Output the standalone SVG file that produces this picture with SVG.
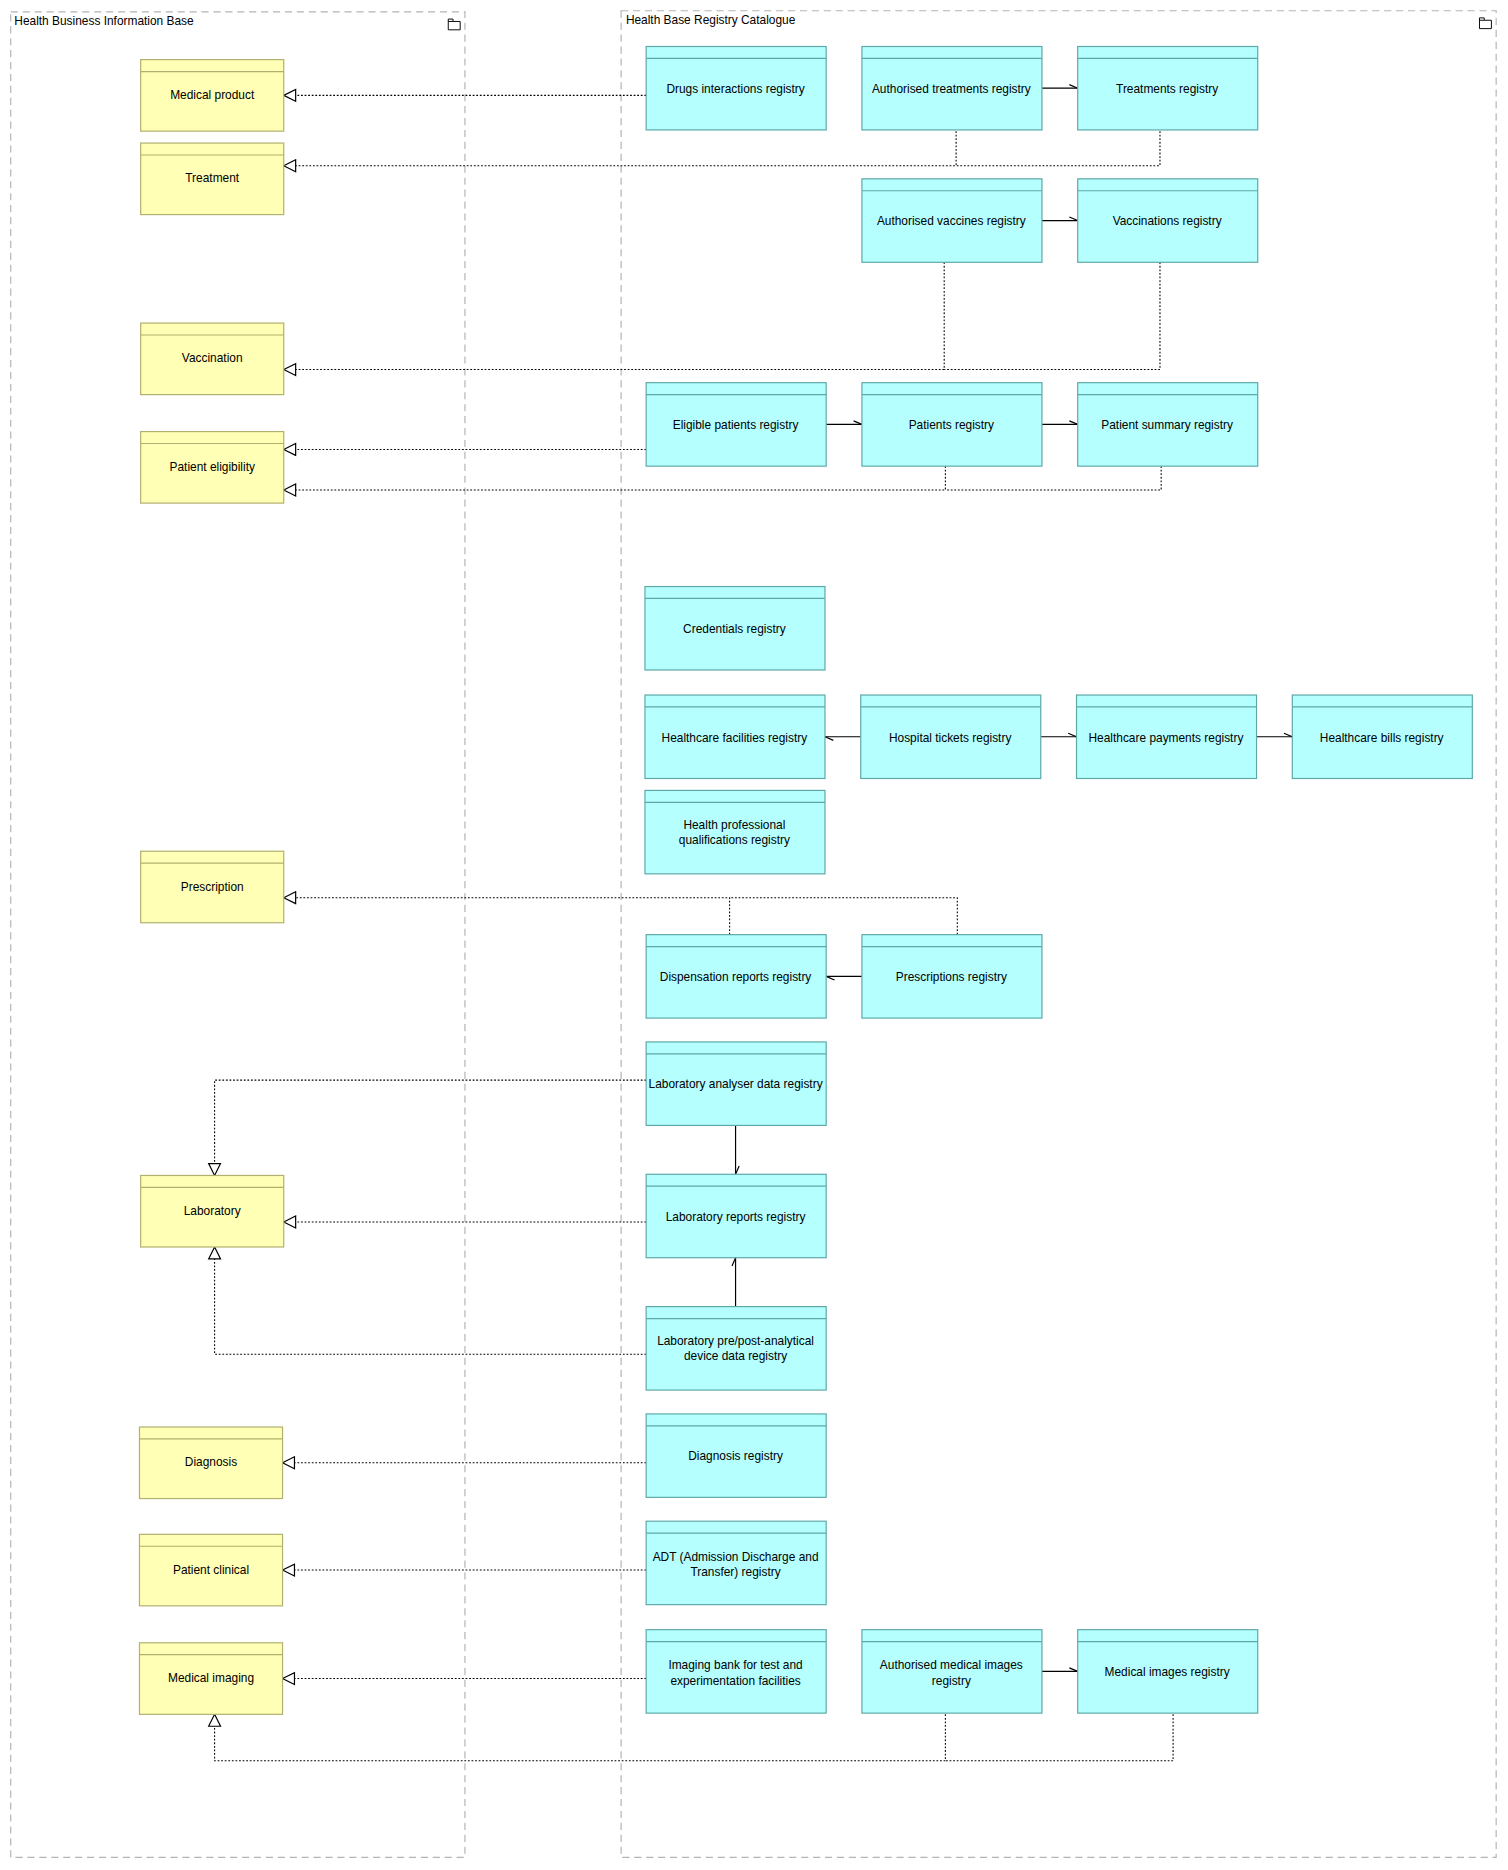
<svg xmlns="http://www.w3.org/2000/svg" width="1508" height="1870" viewBox="0 0 1508 1870">
<style>
text{font-family:"Liberation Sans",Arial,sans-serif;font-size:10px;fill:#000;text-anchor:middle}
.t{text-anchor:start}
.grp{fill:none;stroke:#b4b4b4;stroke-dasharray:6,4}
.y rect{fill:#ffffb5;stroke:#b0b070}
.y line{stroke:#b0b070}
.c rect{fill:#b5ffff;stroke:#5fa8a8}
.c line{stroke:#5fa8a8}
.r{fill:none;stroke:#000;stroke-width:0.9;stroke-dasharray:1.5,1.5;marker-end:url(#tri)}
.r2{fill:none;stroke:#000;stroke-width:0.9;stroke-dasharray:1.5,1.5}
.s{fill:none;stroke:#000;stroke-width:1;marker-end:url(#barb)}
.icon{fill:none;stroke:#000;stroke-width:0.8}
</style>
<defs>
<marker id="tri" viewBox="0 0 12 12" refX="11" refY="6" markerWidth="12" markerHeight="12" markerUnits="userSpaceOnUse" orient="auto">
<path d="M1,1 L11,6 L1,11 Z" fill="#fff" stroke="#000" stroke-width="1"/>
</marker>
<marker id="barb" viewBox="0 0 10 10" refX="9" refY="6" markerWidth="10" markerHeight="10" markerUnits="userSpaceOnUse" orient="auto">
<path d="M2,3 L9,6" fill="none" stroke="#000" stroke-width="1"/>
</marker>
</defs>
<rect width="1508" height="1870" fill="#fff"/>
<g transform="scale(1.19216)">
<g id="g-hbib">
<rect class="grp" x="9" y="10" width="381" height="1548"/>
<text class="t" x="12" y="21">Health Business Information Base</text>
<path class="icon" d="M376,16 h4 v2 h6 v7 h-10 z M376,18 h4"/>
</g>
<g id="g-hbrc">
<rect class="grp" x="521" y="9" width="734" height="1549"/>
<text class="t" x="525" y="20">Health Base Registry Catalogue</text>
<path class="icon" d="M1241,15 h4 v2 h6 v7 h-10 z M1241,17 h4"/>
</g>

<g id="connectors">
<path class="r" d="M542,80 H238"/>
<path class="r" d="M802,110 V139 H238"/>
<path class="r2" d="M973,110 V139 H802"/>
<path class="r" d="M792,220 V310 H238"/>
<path class="r2" d="M973,220 V310 H792"/>
<path class="r" d="M542,377 H238"/>
<path class="r" d="M793,391 V411 H238"/>
<path class="r2" d="M974,391 V411 H793"/>
<path class="r" d="M612,784 V753 H238"/>
<path class="r2" d="M803,784 V753 H612"/>
<path class="r" d="M542,906 H180 V986"/>
<path class="r" d="M542,1025 H238"/>
<path class="r" d="M542,1136 H180 V1046"/>
<path class="r" d="M542,1227 H237"/>
<path class="r" d="M542,1317 H237"/>
<path class="r" d="M542,1408 H237"/>
<path class="r" d="M793,1438 V1477 H180 V1438"/>
<path class="r2" d="M984,1438 V1477 H793"/>
<path class="s" d="M874,74 H904"/>
<path class="s" d="M874,185 H904"/>
<path class="s" d="M693,356 H723"/>
<path class="s" d="M874,356 H904"/>
<path class="s" d="M722,618 H692"/>
<path class="s" d="M873,618 H903"/>
<path class="s" d="M1054,618 H1084"/>
<path class="s" d="M723,819 H693"/>
<path class="s" d="M617,944 V985"/>
<path class="s" d="M617,1096 V1055"/>
<path class="s" d="M874,1402 H904"/>
</g>

<g id="n-medical-product" class="y"><rect x="118" y="50" width="120" height="60"/><line x1="118" y1="60" x2="238" y2="60"/><text x="178" y="83">Medical product</text></g>
<g id="n-treatment" class="y"><rect x="118" y="120" width="120" height="60"/><line x1="118" y1="130" x2="238" y2="130"/><text x="178" y="153">Treatment</text></g>
<g id="n-vaccination" class="y"><rect x="118" y="271" width="120" height="60"/><line x1="118" y1="281" x2="238" y2="281"/><text x="178" y="304">Vaccination</text></g>
<g id="n-patient-eligibility" class="y"><rect x="118" y="362" width="120" height="60"/><line x1="118" y1="372" x2="238" y2="372"/><text x="178" y="395">Patient eligibility</text></g>
<g id="n-prescription" class="y"><rect x="118" y="714" width="120" height="60"/><line x1="118" y1="724" x2="238" y2="724"/><text x="178" y="747">Prescription</text></g>
<g id="n-laboratory" class="y"><rect x="118" y="986" width="120" height="60"/><line x1="118" y1="996" x2="238" y2="996"/><text x="178" y="1019">Laboratory</text></g>
<g id="n-diagnosis" class="y"><rect x="117" y="1197" width="120" height="60"/><line x1="117" y1="1207" x2="237" y2="1207"/><text x="177" y="1230">Diagnosis</text></g>
<g id="n-patient-clinical" class="y"><rect x="117" y="1287" width="120" height="60"/><line x1="117" y1="1297" x2="237" y2="1297"/><text x="177" y="1320">Patient clinical</text></g>
<g id="n-medical-imaging" class="y"><rect x="117" y="1378" width="120" height="60"/><line x1="117" y1="1388" x2="237" y2="1388"/><text x="177" y="1411">Medical imaging</text></g>

<g id="n-drugs" class="c"><rect x="542" y="39" width="151" height="70"/><line x1="542" y1="49" x2="693" y2="49"/><text x="617" y="78">Drugs interactions registry</text></g>
<g id="n-auth-treat" class="c"><rect x="723" y="39" width="151" height="70"/><line x1="723" y1="49" x2="874" y2="49"/><text x="798" y="78">Authorised treatments registry</text></g>
<g id="n-treat" class="c"><rect x="904" y="39" width="151" height="70"/><line x1="904" y1="49" x2="1055" y2="49"/><text x="979" y="78">Treatments registry</text></g>
<g id="n-auth-vacc" class="c"><rect x="723" y="150" width="151" height="70"/><line x1="723" y1="160" x2="874" y2="160"/><text x="798" y="189">Authorised vaccines registry</text></g>
<g id="n-vacc" class="c"><rect x="904" y="150" width="151" height="70"/><line x1="904" y1="160" x2="1055" y2="160"/><text x="979" y="189">Vaccinations registry</text></g>
<g id="n-eligible" class="c"><rect x="542" y="321" width="151" height="70"/><line x1="542" y1="331" x2="693" y2="331"/><text x="617" y="360">Eligible patients registry</text></g>
<g id="n-patients" class="c"><rect x="723" y="321" width="151" height="70"/><line x1="723" y1="331" x2="874" y2="331"/><text x="798" y="360">Patients registry</text></g>
<g id="n-summary" class="c"><rect x="904" y="321" width="151" height="70"/><line x1="904" y1="331" x2="1055" y2="331"/><text x="979" y="360">Patient summary registry</text></g>
<g id="n-credentials" class="c"><rect x="541" y="492" width="151" height="70"/><line x1="541" y1="502" x2="692" y2="502"/><text x="616" y="531">Credentials registry</text></g>
<g id="n-facilities" class="c"><rect x="541" y="583" width="151" height="70"/><line x1="541" y1="593" x2="692" y2="593"/><text x="616" y="622">Healthcare facilities registry</text></g>
<g id="n-tickets" class="c"><rect x="722" y="583" width="151" height="70"/><line x1="722" y1="593" x2="873" y2="593"/><text x="797" y="622">Hospital tickets registry</text></g>
<g id="n-payments" class="c"><rect x="903" y="583" width="151" height="70"/><line x1="903" y1="593" x2="1054" y2="593"/><text x="978" y="622">Healthcare payments registry</text></g>
<g id="n-bills" class="c"><rect x="1084" y="583" width="151" height="70"/><line x1="1084" y1="593" x2="1235" y2="593"/><text x="1159" y="622">Healthcare bills registry</text></g>
<g id="n-qualifications" class="c"><rect x="541" y="663" width="151" height="70"/><line x1="541" y1="673" x2="692" y2="673"/><text x="616" y="695">Health professional</text><text x="616" y="708">qualifications registry</text></g>
<g id="n-dispensation" class="c"><rect x="542" y="784" width="151" height="70"/><line x1="542" y1="794" x2="693" y2="794"/><text x="617" y="823">Dispensation reports registry</text></g>
<g id="n-prescriptions" class="c"><rect x="723" y="784" width="151" height="70"/><line x1="723" y1="794" x2="874" y2="794"/><text x="798" y="823">Prescriptions registry</text></g>
<g id="n-lab-analyser" class="c"><rect x="542" y="874" width="151" height="70"/><line x1="542" y1="884" x2="693" y2="884"/><text x="617" y="913">Laboratory analyser data registry</text></g>
<g id="n-lab-reports" class="c"><rect x="542" y="985" width="151" height="70"/><line x1="542" y1="995" x2="693" y2="995"/><text x="617" y="1024">Laboratory reports registry</text></g>
<g id="n-lab-prepost" class="c"><rect x="542" y="1096" width="151" height="70"/><line x1="542" y1="1106" x2="693" y2="1106"/><text x="617" y="1128">Laboratory pre/post-analytical</text><text x="617" y="1141">device data registry</text></g>
<g id="n-diagnosis-reg" class="c"><rect x="542" y="1186" width="151" height="70"/><line x1="542" y1="1196" x2="693" y2="1196"/><text x="617" y="1225">Diagnosis registry</text></g>
<g id="n-adt" class="c"><rect x="542" y="1276" width="151" height="70"/><line x1="542" y1="1286" x2="693" y2="1286"/><text x="617" y="1309">ADT (Admission Discharge and</text><text x="617" y="1322">Transfer) registry</text></g>
<g id="n-imaging-bank" class="c"><rect x="542" y="1367" width="151" height="70"/><line x1="542" y1="1377" x2="693" y2="1377"/><text x="617" y="1400">Imaging bank for test and</text><text x="617" y="1413">experimentation facilities</text></g>
<g id="n-auth-images" class="c"><rect x="723" y="1367" width="151" height="70"/><line x1="723" y1="1377" x2="874" y2="1377"/><text x="798" y="1400">Authorised medical images</text><text x="798" y="1413">registry</text></g>
<g id="n-images" class="c"><rect x="904" y="1367" width="151" height="70"/><line x1="904" y1="1377" x2="1055" y2="1377"/><text x="979" y="1406">Medical images registry</text></g>
</g>
</svg>
